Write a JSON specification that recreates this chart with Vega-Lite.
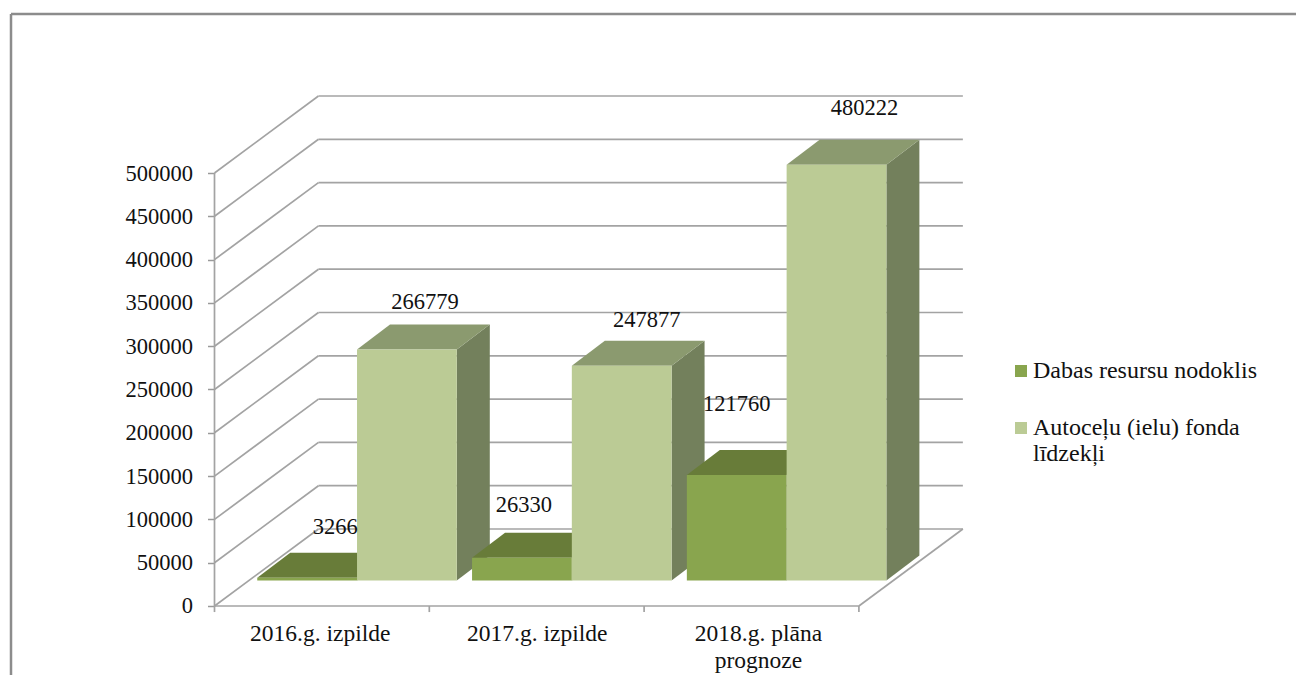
{
"$schema":"https://vega.github.io/schema/vega-lite/v6.json",
"width":1285,"height":661,
"autosize":{"type":"none"},
"padding":{"left":11,"top":14,"right":0,"bottom":0},
"background":"white",
"config":{"view":{"stroke":null},"font":"Liberation Serif","text":{"font":"Liberation Serif"}},
"datasets":{
"bars":[
{"category":"2016.g. izpilde","series":"Dabas resursu nodoklis","value":3266},
{"category":"2016.g. izpilde","series":"Autoceļu (ielu) fonda līdzekļi","value":266779},
{"category":"2017.g. izpilde","series":"Dabas resursu nodoklis","value":26330},
{"category":"2017.g. izpilde","series":"Autoceļu (ielu) fonda līdzekļi","value":247877},
{"category":"2018.g. plāna prognoze","series":"Dabas resursu nodoklis","value":121760},
{"category":"2018.g. plāna prognoze","series":"Autoceļu (ielu) fonda līdzekļi","value":480222}
],
"ticks":[{"tick":0},{"tick":50000},{"tick":100000},{"tick":150000},{"tick":200000},{"tick":250000},{"tick":300000},{"tick":350000},{"tick":400000},{"tick":450000},{"tick":500000}],
"cats":[{"slot":0},{"slot":1},{"slot":2},{"slot":3}],
"one":[{"id":1}]
},
"layer":[
{"data":{"name":"one"},"mark":{"type":"rule","stroke":"#8c8c8c","strokeWidth":2.5},
 "encoding":{
  "x":{"datum":-0.9474,"type":"quantitative","scale":{"domain":[-0.9474,5.0349],"nice":false,"zero":false},
   "axis":{"title":null,"orient":"bottom","offset":-69,"values":[0.49,1.5,2.53],"ticks":false,"domain":false,"grid":false,"labelFont":"Liberation Serif","labelFontSize":23.5,"labelColor":"#111","labelPadding":27,"labelLineHeight":27,"labelBaseline":"middle","labelExpr":"datum.value<1?'2016.g. izpilde':datum.value<2?'2017.g. izpilde':['2018.g. plāna','prognoze']"}},
  "y":{"datum":-79677,"type":"quantitative","scale":{"domain":[-79677,683603],"nice":false,"zero":false},
   "axis":{"title":null,"orient":"left","offset":-203.5,"values":[0,50000,100000,150000,200000,250000,300000,350000,400000,450000,500000],"format":"d","domain":false,"grid":false,"tickColor":"#9a9a9a","tickWidth":1.5,"tickSize":7,"labelFont":"Liberation Serif","labelFontSize":22.5,"labelColor":"#111","labelPadding":15}},
  "y2":{"datum":683603}}},
{"data":{"name":"one"},"mark":{"type":"rule","stroke":"#8c8c8c","strokeWidth":2.5},
 "encoding":{"x":{"datum":-0.9474,"type":"quantitative"},"x2":{"datum":5.0349},"y":{"datum":683603,"type":"quantitative"}}},
{"data":{"name":"ticks"},"transform":[{"calculate":"datum.tick+88915","as":"back"}],"mark":{"type":"rule","stroke":"#a3a3a3","strokeWidth":1.7},
 "encoding":{"x":{"datum":0,"type":"quantitative"},"x2":{"datum":0.484},"y":{"field":"tick","type":"quantitative"},"y2":{"field":"back"}}},
{"data":{"name":"ticks"},"transform":[{"calculate":"datum.tick+88915","as":"back"}],"mark":{"type":"rule","stroke":"#a3a3a3","strokeWidth":1.7},
 "encoding":{"x":{"datum":0.484,"type":"quantitative"},"x2":{"datum":3.484},"y":{"field":"back","type":"quantitative"}}},
{"data":{"name":"one"},"mark":{"type":"rule","stroke":"#a3a3a3","strokeWidth":1.7},
 "encoding":{"x":{"datum":0,"type":"quantitative"},"y":{"datum":0,"type":"quantitative"},"y2":{"datum":500000}}},
{"data":{"name":"one"},"mark":{"type":"rule","stroke":"#a3a3a3","strokeWidth":1.7},
 "encoding":{"x":{"datum":0,"type":"quantitative"},"x2":{"datum":3},"y":{"datum":0,"type":"quantitative"}}},
{"data":{"name":"one"},"mark":{"type":"rule","stroke":"#a3a3a3","strokeWidth":1.7},
 "encoding":{"x":{"datum":3,"type":"quantitative"},"x2":{"datum":3.484},"y":{"datum":0,"type":"quantitative"},"y2":{"datum":88915}}},
{"data":{"name":"cats"},"transform":[{"calculate":"-7000","as":"low"},{"calculate":"0","as":"floor"}],"mark":{"type":"rule","stroke":"#a3a3a3","strokeWidth":1.7},
 "encoding":{"x":{"field":"slot","type":"quantitative"},"y":{"field":"floor","type":"quantitative"},"y2":{"field":"low"}}},
{"data":{"name":"bars"},
 "transform":[
  {"calculate":"indexof(['2016.g. izpilde','2017.g. izpilde','2018.g. plāna prognoze'],datum.category)","as":"idx"},
  {"calculate":"datum.series=='Dabas resursu nodoklis'?0:1","as":"ser"},
  {"calculate":"datum.idx+0.199+datum.ser*0.4645","as":"x0"},
  {"calculate":"datum.x0+0.4645","as":"x1"},
  {"calculate":"datum.value+29445","as":"top"},
  {"calculate":"[0,1]","as":"t"},
  {"flatten":["t"]},
  {"calculate":"datum.x1+datum.t*0.1536","as":"sx"},
  {"calculate":"29445+datum.t*28868","as":"sy0"},
  {"calculate":"datum.top+datum.t*28868","as":"sy1"},
  {"calculate":"datum.x0+datum.t*0.1536","as":"tx0"},
  {"calculate":"datum.x1+datum.t*0.1536","as":"tx1"},
  {"calculate":"29445","as":"base"},
  {"calculate":"(datum.x0+datum.x1)/2","as":"cx"}
 ],
 "layer":[
  {"transform":[{"filter":"datum.ser==1"}],"mark":{"type":"area","fill":"#73805c","orient":"vertical"},
   "encoding":{"x":{"field":"sx","type":"quantitative"},"y":{"field":"sy1","type":"quantitative"},"y2":{"field":"sy0"},"detail":{"field":"category"}}},
  {"transform":[{"filter":"datum.ser==0"}],"mark":{"type":"area","fill":"#5f7233","orient":"vertical"},
   "encoding":{"x":{"field":"sx","type":"quantitative"},"y":{"field":"sy1","type":"quantitative"},"y2":{"field":"sy0"},"detail":{"field":"category"}}},
  {"transform":[{"filter":"datum.ser==0"}],"mark":{"type":"area","fill":"#687c39","orient":"horizontal"},
   "encoding":{"y":{"field":"sy1","type":"quantitative"},"x":{"field":"tx0","type":"quantitative"},"x2":{"field":"tx1"},"detail":{"field":"category"}}},
  {"transform":[{"filter":"datum.ser==0 && datum.t==0"}],"mark":{"type":"rect"},
   "encoding":{"x":{"field":"x0","type":"quantitative"},"x2":{"field":"x1"},"y":{"field":"top","type":"quantitative"},"y2":{"field":"base"},
    "color":{"field":"series","type":"nominal","scale":{"domain":["Dabas resursu nodoklis","Autoceļu (ielu) fonda līdzekļi"],"range":["#89a54e","#bbcb95"]},
     "legend":{"title":null,"orient":"none","legendX":998,"legendY":345,"symbolType":"square","symbolSize":144,"symbolStrokeWidth":0,"labelFont":"Liberation Serif","labelFontSize":24,"labelColor":"#111","labelLimit":280,"labelLineHeight":28,"rowPadding":33,"labelOffset":0,"labelExpr":"datum.label=='Autoceļu (ielu) fonda līdzekļi'?['Autoceļu (ielu) fonda','līdzekļi']:datum.label"}}}},
  {"transform":[{"filter":"datum.ser==1"}],"mark":{"type":"area","fill":"#8b9a6f","orient":"horizontal"},
   "encoding":{"y":{"field":"sy1","type":"quantitative"},"x":{"field":"tx0","type":"quantitative"},"x2":{"field":"tx1"},"detail":{"field":"category"}}},
  {"transform":[{"filter":"datum.ser==1 && datum.t==0"}],"mark":{"type":"rect"},
   "encoding":{"x":{"field":"x0","type":"quantitative"},"x2":{"field":"x1"},"y":{"field":"top","type":"quantitative"},"y2":{"field":"base"},"color":{"field":"series","type":"nominal"}}},
  {"transform":[{"filter":"datum.t==0 && datum.value==3266"}],"mark":{"type":"text","fontSize":22.5,"color":"#111","dx":28,"dy":-51},"encoding":{"x":{"field":"cx","type":"quantitative"},"y":{"field":"top","type":"quantitative"},"text":{"field":"value","type":"quantitative","format":"d"}}},
  {"transform":[{"filter":"datum.t==0 && datum.value==26330"}],"mark":{"type":"text","fontSize":22.5,"color":"#111","dx":2,"dy":-53},"encoding":{"x":{"field":"cx","type":"quantitative"},"y":{"field":"top","type":"quantitative"},"text":{"field":"value","type":"quantitative","format":"d"}}},
  {"transform":[{"filter":"datum.t==0 && datum.value==121760"}],"mark":{"type":"text","fontSize":22.5,"color":"#111","dx":0,"dy":-71},"encoding":{"x":{"field":"cx","type":"quantitative"},"y":{"field":"top","type":"quantitative"},"text":{"field":"value","type":"quantitative","format":"d"}}},
  {"transform":[{"filter":"datum.t==0 && datum.value==266779"}],"mark":{"type":"text","fontSize":22.5,"color":"#111","dx":18,"dy":-47},"encoding":{"x":{"field":"cx","type":"quantitative"},"y":{"field":"top","type":"quantitative"},"text":{"field":"value","type":"quantitative","format":"d"}}},
  {"transform":[{"filter":"datum.t==0 && datum.value==247877"}],"mark":{"type":"text","fontSize":22.5,"color":"#111","dx":25,"dy":-46},"encoding":{"x":{"field":"cx","type":"quantitative"},"y":{"field":"top","type":"quantitative"},"text":{"field":"value","type":"quantitative","format":"d"}}},
  {"transform":[{"filter":"datum.t==0 && datum.value==480222"}],"mark":{"type":"text","fontSize":22.5,"color":"#111","dx":28,"dy":-57},"encoding":{"x":{"field":"cx","type":"quantitative"},"y":{"field":"top","type":"quantitative"},"text":{"field":"value","type":"quantitative","format":"d"}}}
 ]}
]
}
